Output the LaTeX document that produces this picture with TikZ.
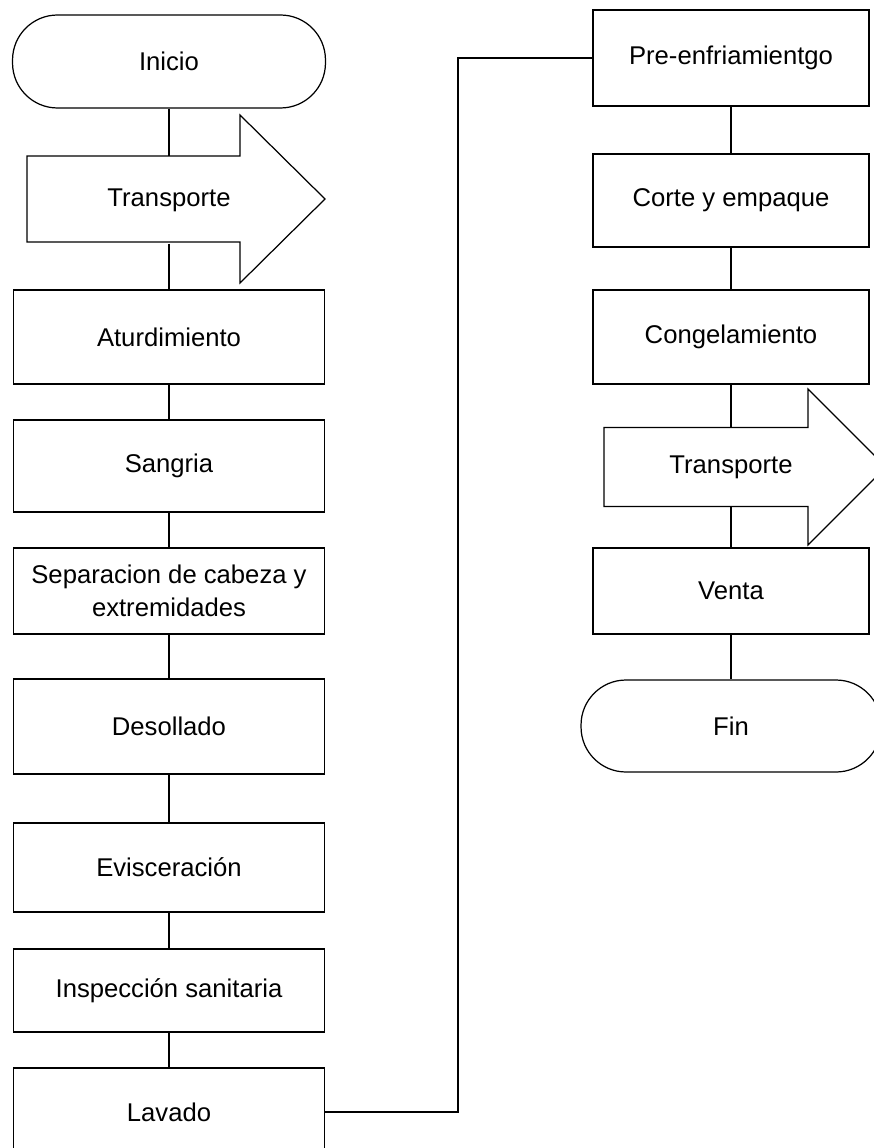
\documentclass[tikz,border=0pt]{standalone}
\usepackage{fontspec}
\setmainfont{Liberation Sans}

\tikzset{
  txt/.style={font=\fontsize{14.6}{18.5}\selectfont, align=center},
  proc/.style={txt, draw, rectangle, minimum width=6.22cm},
  procr/.style={proc, minimum width=5.52cm},
  term/.style={txt, draw, rectangle, rounded corners=0.9cm},
  trans/.style={txt, rectangle, inner sep=0pt}
}

\begin{document}
\begin{tikzpicture}[x=0.02cm, y=-0.02cm, line width=0.7pt]
\useasboundingbox (0,0) rectangle (873,1148);

\node (ini) at (169,61.5) [term, minimum width=6.26cm, minimum height=1.86cm] {Inicio};
\node (tr1) at (169,200) [trans, minimum height=1.72cm] {Transporte};
\draw [shift={(tr1.center)}] (-142,-44) -- (71,-44) -- (71,-85) -- (156,-1) -- (71,83) -- (71,42) -- (-142,42) -- cycle;
\node (atu) at (169,337) [proc, minimum height=1.88cm] {Aturdimiento};
\node (san) at (169,466) [proc, minimum height=1.84cm] {Sangria};
\node (sep) at (169,591) [proc, minimum height=1.72cm] {Separacion de cabeza y\\extremidades};
\node (des) at (169,726.5) [proc, minimum height=1.9cm] {Desollado};
\node (evi) at (169,867.5) [proc, minimum height=1.78cm] {Evisceración};
\node (ins) at (169,990.5) [proc, minimum height=1.66cm] {Inspección sanitaria};
\node (lav) at (169,1112) [proc, minimum height=1.76cm] {Lavado};

\node (pre) at (731,58) [procr, minimum height=1.92cm] {Pre-enfriamientgo};
\node (cor) at (731,200.5) [procr, minimum height=1.86cm] {Corte y empaque};
\node (con) at (731,337) [procr, minimum height=1.88cm] {Congelamiento};
\node (tr2) at (731,467) [trans, minimum height=1.58cm] {Transporte};
\draw [shift={(tr2.center)}] (-127,-39.5) -- (77,-39.5) -- (77,-78) -- (155,0) -- (77,78) -- (77,39.5) -- (-127,39.5) -- cycle;
\node (ven) at (731,591) [procr, minimum height=1.72cm] {Venta};
\node (fin) at (731,726) [term, minimum width=6cm, minimum height=1.84cm] {Fin};

\draw (ini) -- (tr1);
\draw (tr1) -- (atu);
\draw (atu) -- (san);
\draw (san) -- (sep);
\draw (sep) -- (des);
\draw (des) -- (evi);
\draw (evi) -- (ins);
\draw (ins) -- (lav);
\coordinate (bend) at (458,1112);
\draw (lav.east) -- (bend) |- (pre.west);
\draw (pre) -- (cor);
\draw (cor) -- (con);
\draw (con) -- (tr2);
\draw (tr2) -- (ven);
\draw (ven) -- (fin);
\end{tikzpicture}
\end{document}
